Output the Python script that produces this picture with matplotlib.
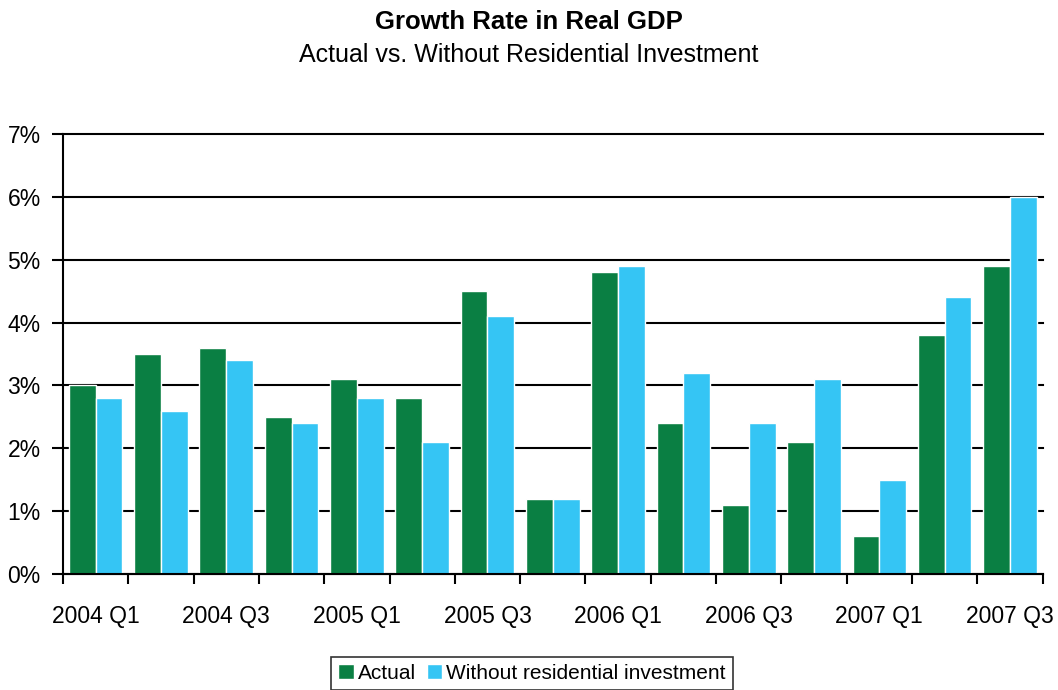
import numpy as np
import matplotlib
matplotlib.use("Agg")
import matplotlib.pyplot as plt
from matplotlib.ticker import FixedLocator, PercentFormatter

plt.rcParams['font.family'] = ['Liberation Sans', 'DejaVu Sans']

quarters = ['2004 Q1', '2004 Q2', '2004 Q3', '2004 Q4',
            '2005 Q1', '2005 Q2', '2005 Q3', '2005 Q4',
            '2006 Q1', '2006 Q2', '2006 Q3', '2006 Q4',
            '2007 Q1', '2007 Q2', '2007 Q3']
actual = [3.0, 3.5, 3.6, 2.5, 3.1, 2.8, 4.5, 1.2, 4.8, 2.4, 1.1, 2.1, 0.6, 3.8, 4.9]
without_resid = [2.8, 2.6, 3.4, 2.4, 2.8, 2.1, 4.1, 1.2, 4.9, 3.2, 2.4, 3.1, 1.5, 4.4, 6.0]

green = '#0A7F43'
blue = '#35C5F4'

fig = plt.figure(figsize=(10.58, 6.9), dpi=100)
ax = fig.add_axes([0.0595, 0.168, 0.926, 0.638])

x = np.arange(len(quarters))
w = 0.41
ax.bar(x - w / 2, actual, w, color=green, edgecolor='white', linewidth=1, label='Actual', zorder=3)
ax.bar(x + w / 2, without_resid, w, color=blue, edgecolor='white', linewidth=1,
       label='Without residential investment', zorder=3)

ax.set_xlim(-0.5, len(quarters) - 0.5)
ax.set_ylim(0, 7)
ax.yaxis.set_major_formatter(PercentFormatter(decimals=0))
ax.set_yticks(range(0, 8))
ax.grid(axis='y', color='black', linewidth=1.5, zorder=1)
for gl in ax.get_ygridlines():
    gl.set_clip_on(False)

# labels on every other quarter, tick marks at group boundaries
ax.set_xticks(x[::2])
ax.set_xticklabels(quarters[::2])
ax.tick_params(axis='x', which='major', length=0, pad=22, labelsize=16.5)
ax.xaxis.set_minor_locator(FixedLocator(np.arange(-0.5, len(quarters), 1)))
ax.tick_params(axis='x', which='minor', length=7, width=1.5, direction='out')
ax.tick_params(axis='y', length=8, width=1.5, labelsize=16.5, pad=8)

for s in ['top', 'right']:
    ax.spines[s].set_visible(False)
ax.spines['left'].set_linewidth(1.5)
ax.spines['bottom'].set_linewidth(1.5)
ax.spines['bottom'].set_zorder(4)

fig.text(0.5, 0.968, 'Growth Rate in Real GDP', ha='center', va='center',
         fontsize=18.5, fontweight='bold')
fig.text(0.5, 0.920, 'Actual vs. Without Residential Investment', ha='center',
         va='center', fontsize=18)

leg = fig.legend(loc='center', bbox_to_anchor=(0.503, 0.024), ncol=2, fontsize=15,
                 frameon=True, fancybox=False, edgecolor='black',
                 handlelength=0.75, handleheight=0.75, handletextpad=0.2,
                 columnspacing=0.5, borderpad=0.35, borderaxespad=0)
leg.get_frame().set_linewidth(1.2)

fig.savefig('out.png', dpi=100)
